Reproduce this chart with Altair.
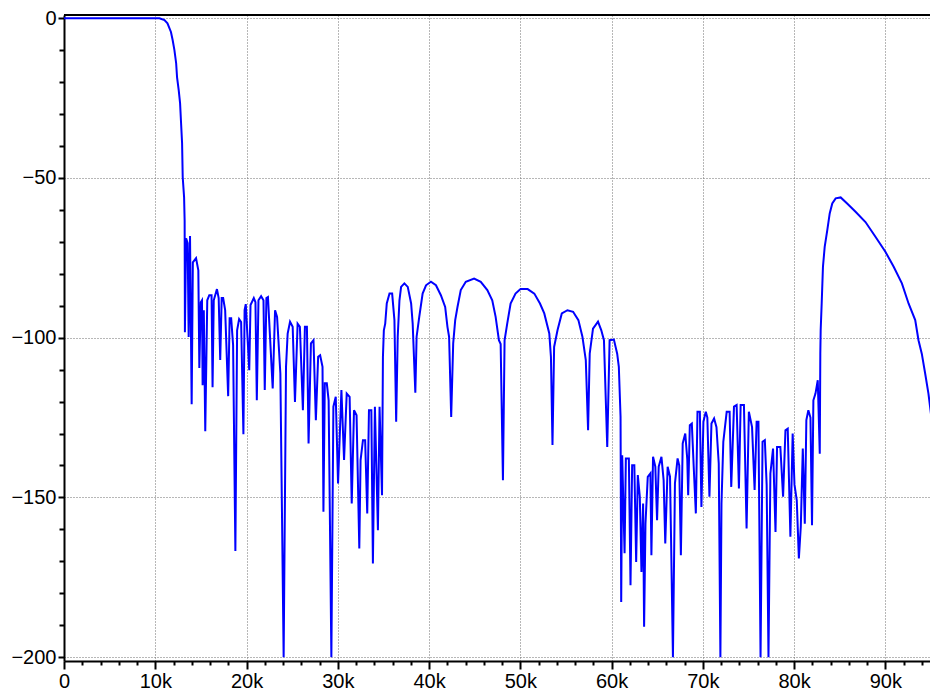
import altair as alt
import pandas as pd

# Frequency (kHz) and level (dB)
freq_khz = [
    0.0, 10.46, 11.01, 11.34, 11.72, 11.91, 12.10, 12.29, 12.39, 12.57,
    12.72, 12.83, 12.94, 13.01, 13.16, 13.22, 13.25, 13.38, 13.55, 13.66,
    13.81, 13.99, 14.12, 14.47, 14.72, 14.83, 14.99, 15.12, 15.19, 15.32,
    15.48, 15.70, 15.92, 16.17, 16.28, 16.41, 16.76, 16.95, 17.12, 17.28,
    17.44, 17.66, 17.99, 18.15, 18.32, 18.53, 18.78, 18.97, 19.19, 19.41,
    19.66, 19.79, 19.92,
    20.30, 20.44, 20.80, 20.98, 21.13, 21.31, 21.60, 21.86, 22.00, 22.18,
    22.35, 22.87, 23.13, 23.35, 23.71, 24.07, 24.33, 24.51, 24.77, 25.06,
    25.31, 25.60, 25.85, 26.18, 26.40, 26.62, 26.80, 27.06, 27.34, 27.60,
    27.85, 28.07, 28.33, 28.43, 28.58, 28.80, 29.00, 29.30, 29.52, 29.78,
    30.03, 30.40, 30.69, 30.98, 31.30, 31.53, 31.78, 32.06, 32.36, 32.50,
    32.76, 33.00, 33.23, 33.42, 33.68, 33.85, 34.07, 34.40, 34.58, 34.85,
    34.95, 35.05, 35.20,
    35.37, 35.67, 35.96, 36.21, 36.40, 36.57, 36.76, 36.94, 37.30, 37.67,
    38.04, 38.21, 38.50, 38.64, 38.93, 39.30, 39.67, 40.21, 40.76, 41.30,
    41.77, 42.02, 42.20, 42.43, 42.65, 42.87, 43.12, 43.48, 44.03, 44.94,
    45.67, 46.39, 46.93, 47.30, 47.66, 47.85, 48.10, 48.28, 48.57, 48.94,
    49.48, 50.03, 50.81, 51.54, 52.16, 52.63, 53.18, 53.36, 53.53, 53.71,
    54.08, 54.55, 55.17, 55.79, 56.37, 56.81, 57.18, 57.43, 57.61, 57.97,
    58.52, 58.88, 59.17, 59.53, 59.79, 60.26, 60.62, 60.80,
    60.99, 61.06, 61.17, 61.43, 61.57, 61.90, 62.08, 62.26, 62.50, 62.70,
    62.88, 63.10, 63.28, 63.46, 63.57, 63.72, 63.97, 64.26, 64.37, 64.55,
    64.80, 64.99, 65.17, 65.47, 65.71, 65.89, 66.15, 66.41, 66.52, 66.73,
    66.95, 67.24, 67.42, 67.60, 67.80, 68.08, 68.30, 68.40, 68.58, 68.80,
    69.00, 69.24, 69.42, 69.68, 69.85, 70.07, 70.33, 70.50, 70.73, 70.95,
    71.24, 71.50, 71.75, 71.93, 72.05, 72.25, 72.62, 72.94, 73.12, 73.42,
    73.71, 73.96, 74.15, 74.51, 74.80, 75.05, 75.40, 75.68, 75.90, 76.10,
    76.33, 76.55, 76.80, 77.00, 77.20, 77.41, 77.70, 77.97, 78.14, 78.50,
    78.80, 79.06, 79.31, 79.60, 79.85, 80.05, 80.30, 80.53, 80.74, 80.96,
    81.18, 81.35, 81.57, 81.80, 81.97, 82.12, 82.35, 82.60, 82.82,
    82.88, 82.92, 83.03, 83.17, 83.36, 83.64, 83.91, 84.19, 84.56, 85.11,
    85.82, 86.74, 87.83, 88.92, 90.01, 90.92, 91.82, 92.55, 93.28, 93.64,
    94.00, 94.37, 94.73, 95.09, 95.36, 95.55,
]

level_db = [
    0.0, 0.0, -0.6, -1.6, -4.3, -6.9, -10.0, -14.1, -18.5, -22.5,
    -26.6, -32.9, -39.1, -49.8, -56.0, -63.5, -98.3, -68.9, -70.4, -99.8,
    -68.2, -120.8, -76.4, -75.1, -78.9, -109.5, -88.9, -88.3, -114.9, -91.4,
    -129.3, -88.3, -86.7, -86.7, -115.5, -88.3, -84.8, -87.6, -107.0, -87.6,
    -87.6, -91.4, -118.3, -93.9, -93.9, -102.3, -166.8, -97.7, -94.2, -95.1,
    -130.2, -91.4, -89.5,
    -110.2, -89.8, -87.6, -88.9, -119.6, -88.3, -87.0, -88.3, -116.4, -87.6,
    -87.3, -115.9, -91.4, -93.5, -111.2, -200.0, -109.1, -98.7, -95.0, -96.6,
    -120.1, -95.6, -96.6, -122.7, -96.6, -96.6, -133.1, -101.8, -100.8, -125.8,
    -106.0, -105.5, -109.1, -154.5, -114.3, -114.3, -119.6, -200.0, -121.6, -118.5,
    -145.6, -116.4, -138.3, -117.5, -118.5, -151.9, -122.7, -124.3, -166.0, -138.3,
    -132.1, -132.1, -155.0, -122.7, -122.7, -170.7, -121.6, -160.3, -121.6, -149.3,
    -106.0, -97.7, -95.6,
    -89.3, -86.2, -86.2, -94.5, -126.3, -99.7, -88.3, -84.1, -83.0, -84.1,
    -89.3, -95.6, -117.2, -99.7, -93.5, -86.2, -83.6, -82.5, -83.6, -86.7,
    -90.4, -96.6, -99.7, -124.8, -101.8, -94.5, -90.4, -85.1, -82.5, -81.5,
    -82.5, -85.1, -88.3, -93.5, -100.8, -102.0, -144.6, -100.8, -95.6, -89.3,
    -86.2, -84.8, -84.8, -86.2, -89.3, -92.4, -98.7, -106.0, -133.6, -102.9,
    -97.7, -92.4, -91.4, -91.9, -94.5, -99.7, -107.0, -129.0, -105.0, -97.2,
    -95.0, -97.7, -100.8, -134.2, -100.8, -100.6, -105.0, -109.1,
    -124.8, -182.7, -136.8, -167.5, -137.8, -137.8, -177.5, -139.9, -139.9, -170.2,
    -143.0, -149.8, -173.3, -151.9, -190.5, -158.2, -143.6, -142.5, -168.1, -137.3,
    -140.4, -157.1, -140.4, -137.3, -144.6, -164.4, -140.4, -143.5, -162.3, -200.0,
    -145.6, -137.8, -140.0, -168.1, -133.1, -130.0, -138.0, -149.3, -127.4, -126.9,
    -140.0, -155.0, -123.2, -123.2, -153.0, -126.3, -123.2, -125.0, -149.8, -126.9,
    -125.3, -128.0, -139.4, -200.0, -151.9, -132.6, -123.2, -123.2, -146.7, -121.6,
    -121.1, -147.2, -121.1, -121.1, -159.7, -123.2, -128.0, -147.7, -126.3, -126.3,
    -200.0, -132.6, -132.1, -146.0, -200.0, -142.5, -134.7, -160.8, -134.2, -134.2,
    -149.8, -129.0, -128.5, -162.3, -130.0, -146.0, -150.9, -169.1, -159.2, -134.7,
    -158.2, -125.8, -122.7, -125.0, -158.7, -119.6, -117.5, -113.3, -136.3,
    -105.0, -97.7, -89.3, -77.8, -71.6, -66.4, -61.1, -58.0, -56.4, -56.1,
    -58.0, -60.6, -63.8, -68.4, -73.1, -77.8, -83.0, -89.3, -94.5, -100.8,
    -105.0, -111.2, -117.5, -125.8, -136.3, -154.0,
]

x_tick_values = list(range(0, 95, 2))
y_tick_values = list(range(-200, 1, 10))

FONT = "Liberation Sans"
PLOT_W = 866
PLOT_H = 646
GRID_COLOR = "#6e6e6e"

df = pd.DataFrame({"f": freq_khz, "db": level_db, "i": list(range(len(freq_khz)))})

x_axis = alt.Axis(
    values=x_tick_values,
    labelExpr="datum.value % 10 === 0 ? (datum.value === 0 ? '0' : datum.value + 'k') : ''",
    title=None,
    grid=True,
    gridColor=GRID_COLOR,
    gridDash=[1, 2],
    gridWidth=1,
    gridOpacity={"condition": {"test": "datum.value % 10 === 0", "value": 1}, "value": 0},
    ticks=True,
    tickSize={"condition": {"test": "datum.value % 10 === 0", "value": 8}, "value": 4},
    tickColor="black",
    tickWidth=2,
    domainColor="black",
    domainWidth=2,
    labelFont=FONT,
    labelFontSize=20,
    labelColor="black",
    labelPadding=2,
    labelFlush=False,
    labelOverlap=False,
)

y_axis = alt.Axis(
    values=y_tick_values,
    labelExpr="datum.value % 50 === 0 ? (datum.value < 0 ? '\u2212' + (-datum.value) : '' + datum.value) : ''",
    title=None,
    grid=True,
    gridColor=GRID_COLOR,
    gridDash=[1, 2],
    gridWidth=1,
    gridOpacity={"condition": {"test": "datum.value % 50 === 0", "value": 1}, "value": 0},
    ticks=True,
    tickSize={"condition": {"test": "datum.value % 50 === 0", "value": 6}, "value": 5},
    tickColor="black",
    tickWidth=2,
    domainColor="black",
    domainWidth=2,
    labelFont=FONT,
    labelFontSize=20,
    labelColor="black",
    labelPadding=2,
    labelFlush=False,
    labelOverlap=False,
)

line = alt.Chart(df).mark_line(color="#0000ff", strokeWidth=2, clip=True).encode(
    x=alt.X("f:Q", scale=alt.Scale(domain=[0, 94.9], nice=False, zero=False), axis=x_axis),
    y=alt.Y("db:Q", scale=alt.Scale(domain=[-201.2, 1.0], nice=False, zero=False), axis=y_axis),
    order=alt.Order("i:Q"),
)

border = alt.Chart(pd.DataFrame({"k": [0]})).mark_rule(color="black", strokeWidth=2).encode(
    x=alt.value(0), x2=alt.value(PLOT_W), y=alt.value(0)
)

chart = alt.layer(line, border).properties(
    width=PLOT_W,
    height=PLOT_H,
    autosize=alt.AutoSizeParams(type="none"),
    padding={"left": 56, "top": 7, "right": 0, "bottom": 30},
    background="white",
).configure_view(stroke=None)

chart.save("out.html", embed_options={"renderer": "svg", "actions": False})
